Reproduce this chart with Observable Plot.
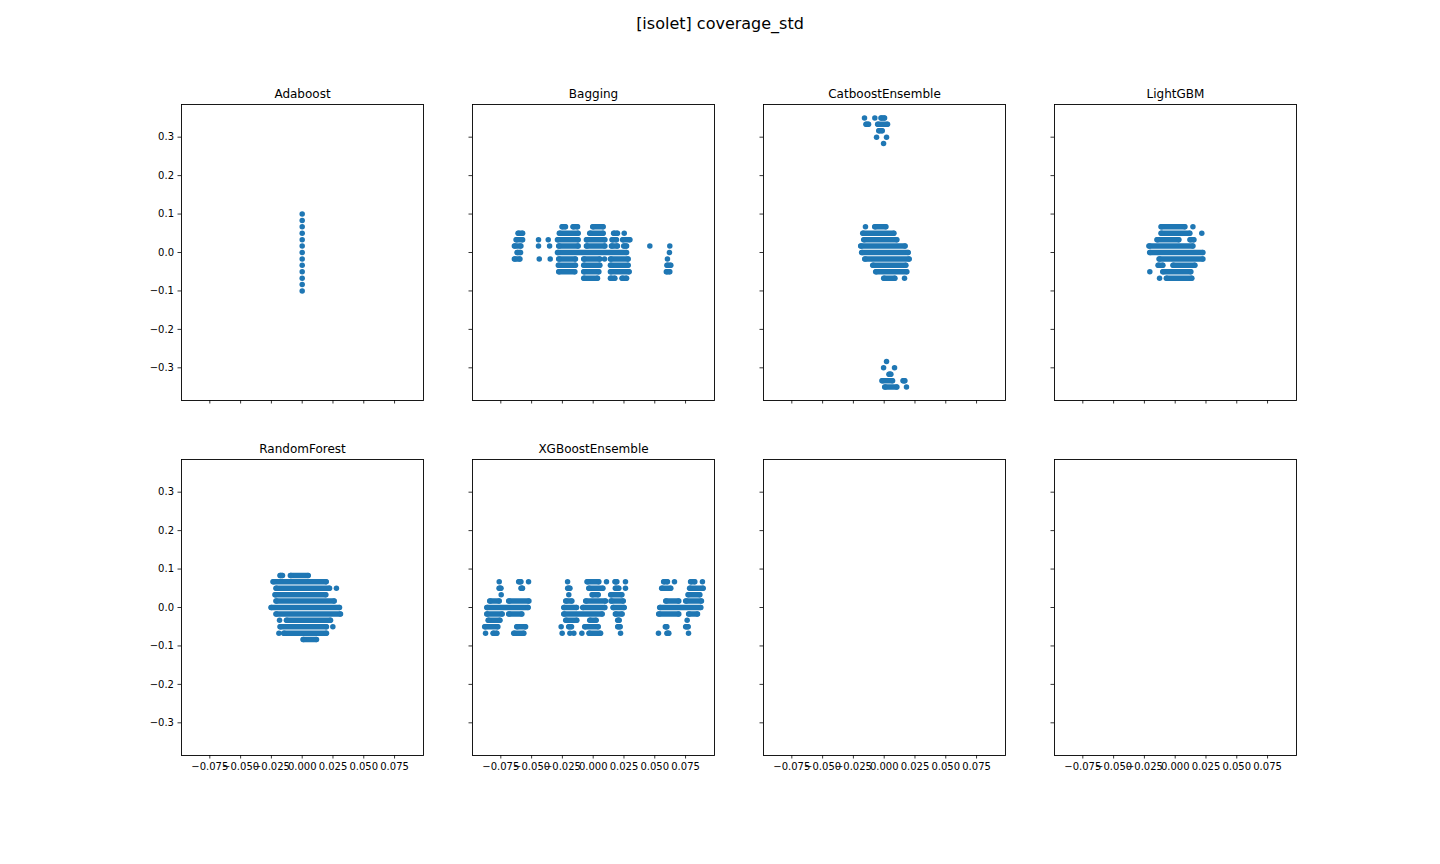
<!DOCTYPE html>
<html>
<head>
<meta charset="utf-8">
<script src="https://cdn.jsdelivr.net/npm/d3@7"></script>
<script src="https://cdn.jsdelivr.net/npm/@observablehq/plot@0.6"></script>
<style>
  html, body { margin: 0; padding: 0; background: #ffffff; }
  #root { position: relative; width: 1440px; height: 864px; background: #ffffff; overflow: hidden; }
  #suptitle { position: absolute; left: 0; top: 13.5px; width: 1440px; text-align: center;
    font-family: "DejaVu Sans", sans-serif; font-size: 16px; line-height: 20px; color: #000; }
  .panel { position: absolute; }
  .panel svg { overflow: visible; }
</style>
</head>
<body>
<div id="root">
  <div id="suptitle">[isolet] coverage_std</div>
</div>
<script>
// ---------- data: each row is [y, x_start, x_end] of a run of points (single point when start == end)
const adaboost = [
  [0.1, 0, 0], [0.0833, 0, 0], [0.0667, 0, 0], [0.05, 0, 0], [0.0333, 0, 0], [0.0167, 0, 0], [0, 0, 0],
  [-0.0167, 0, 0], [-0.0333, 0, 0], [-0.05, 0, 0], [-0.0667, 0, 0], [-0.0833, 0, 0], [-0.1, 0, 0]
];

const bagging = [
  [0.0667, -0.0249, -0.0225], [0.0667, -0.0160, -0.0127], [0.0667, 0.0, 0.0081],
  [0.05, -0.0606, -0.0573], [0.05, -0.0271, -0.0122], [0.05, -0.0024, 0.0081], [0.05, 0.0170, 0.0197], [0.05, 0.0252, 0.0252],
  [0.0333, -0.0622, -0.0573], [0.0333, -0.0444, -0.0444], [0.0333, -0.0365, -0.0365], [0.0333, -0.0286, -0.0122],
  [0.0333, -0.0051, 0.0095], [0.0333, 0.0157, 0.0189], [0.0333, 0.0243, 0.0298],
  [0.0167, -0.0636, -0.0587], [0.0167, -0.0444, -0.0444], [0.0167, -0.0354, -0.0354], [0.0167, -0.0276, -0.0122],
  [0.0167, -0.0051, 0.0095], [0.0167, 0.0152, 0.0197], [0.0167, 0.0252, 0.0271], [0.0167, 0.0460, 0.0460], [0.0167, 0.0622, 0.0622],
  [0, -0.0614, -0.0590], [0, -0.0286, 0.0271], [0, 0.0619, 0.0619],
  [-0.0167, -0.0636, -0.0595], [-0.0167, -0.0438, -0.0438], [-0.0167, -0.0349, -0.0349], [-0.0167, -0.0276, -0.0144],
  [-0.0167, -0.0073, 0.0054], [-0.0167, 0.0092, 0.0092], [-0.0167, 0.0144, 0.0284], [-0.0167, 0.0603, 0.0603],
  [-0.0333, -0.0279, -0.0144], [-0.0333, -0.0073, 0.0054], [-0.0333, 0.0144, 0.0284], [-0.0333, 0.0603, 0.0630],
  [-0.05, -0.0276, -0.0149], [-0.05, -0.0073, 0.0046], [-0.05, 0.0144, 0.0292], [-0.05, 0.0598, 0.0622],
  [-0.0667, -0.0073, 0.0035], [-0.0667, 0.0144, 0.0176], [-0.0667, 0.0238, 0.0271]
];

const catboost = [
  [0.35, -0.0160, -0.0160], [0.35, -0.0076, -0.0076], [0.35, -0.0022, 0.0003],
  [0.3333, -0.0144, -0.0127], [0.3333, -0.0049, 0.0027],
  [0.3167, -0.0040, -0.0016],
  [0.3, -0.0062, -0.0062], [0.3, 0.0019, 0.0019],
  [0.2833, -0.0005, -0.0005],
  [0.0667, -0.0152, -0.0152], [0.0667, -0.0073, 0.0014],
  [0.05, -0.0170, 0.0079],
  [0.0333, -0.0162, 0.0103],
  [0.0167, -0.0187, 0.0170],
  [0, -0.0179, 0.0195],
  [-0.0167, -0.0154, 0.0203],
  [-0.0333, -0.0089, 0.0176],
  [-0.05, -0.0065, 0.0184],
  [-0.0667, 0.0, 0.0087], [-0.0667, 0.0165, 0.0165],
  [-0.2833, 0.0019, 0.0019],
  [-0.3, -0.0005, -0.0005], [-0.3, 0.0084, 0.0084],
  [-0.3167, 0.0043, 0.0054],
  [-0.3333, -0.0014, 0.0068], [-0.3333, 0.0157, 0.0168],
  [-0.35, 0.0008, 0.0103], [-0.35, 0.0181, 0.0181]
];

const lightgbm = [
  [0.0667, -0.0111, 0.0079], [0.0667, 0.0144, 0.0144],
  [0.05, -0.0111, 0.0119], [0.05, 0.0216, 0.0216],
  [0.0333, -0.0144, 0.0030], [0.0333, 0.0124, 0.0152],
  [0.0167, -0.0209, 0.0144],
  [0, -0.0203, 0.0225],
  [-0.0167, -0.0127, 0.0225],
  [-0.0333, -0.0135, -0.0100], [-0.0333, -0.0014, 0.0160],
  [-0.05, -0.0206, -0.0206], [-0.05, -0.0097, 0.0127],
  [-0.0667, -0.0127, -0.0127], [-0.0667, -0.0068, 0.0135]
];

const randomforest = [
  [0.0833, -0.0176, -0.0160], [0.0833, -0.0092, 0.0049],
  [0.0667, -0.0233, 0.0195],
  [0.05, -0.0209, 0.0222], [0.05, 0.0278, 0.0278],
  [0.0333, -0.0217, 0.0192],
  [0.0167, -0.0209, 0.0260],
  [0, -0.0249, 0.0303],
  [-0.0167, -0.0209, 0.0311],
  [-0.0333, -0.0184, -0.0184], [-0.0333, -0.0124, 0.0230],
  [-0.05, -0.0176, 0.0197], [-0.05, 0.0249, 0.0249],
  [-0.0667, -0.0189, -0.0189], [-0.0667, -0.0146, 0.0197],
  [-0.0833, 0.0011, 0.0116]
];

const xgboost = [
  [0.0667, -0.0763, -0.0763], [0.0667, -0.0601, -0.0587], [0.0667, -0.0525, -0.0525], [0.0667, -0.0208, -0.0208],
  [0.0667, -0.0046, 0.0046], [0.0667, 0.0108, 0.0108], [0.0667, 0.0181, 0.0192], [0.0667, 0.0262, 0.0262],
  [0.0667, 0.0576, 0.0603], [0.0667, 0.0660, 0.0660], [0.0667, 0.0795, 0.0825], [0.0667, 0.0887, 0.0887],
  [0.05, -0.0760, -0.0749], [0.05, -0.0582, -0.0574], [0.05, -0.0203, -0.0189], [0.05, -0.0032, 0.0079],
  [0.05, 0.0184, 0.0208], [0.05, 0.0262, 0.0262], [0.05, 0.0560, 0.0630], [0.05, 0.0787, 0.0893],
  [0.0333, -0.0747, -0.0747], [0.0333, -0.0198, -0.0198], [0.0333, -0.0005, 0.0041], [0.0333, 0.0146, 0.0233],
  [0.0333, 0.0774, 0.0866],
  [0.0167, -0.0836, -0.0763], [0.0167, -0.0682, -0.0522], [0.0167, -0.0219, -0.0173], [0.0167, -0.0057, 0.0100],
  [0.0167, 0.0149, 0.0244], [0.0167, 0.0593, 0.0695], [0.0167, 0.0755, 0.0879],
  [0, -0.0860, -0.0528], [0, -0.0235, -0.0135], [0, -0.0081, 0.0095], [0, 0.0165, 0.0252], [0, 0.0544, 0.0874],
  [-0.0167, -0.0860, -0.0739], [-0.0167, -0.0682, -0.0579], [-0.0167, -0.0235, 0.0073], [-0.0167, 0.0184, 0.0235],
  [-0.0167, 0.0536, 0.0695], [-0.0167, 0.0779, 0.0847],
  [-0.0333, -0.0849, -0.0757], [-0.0333, -0.0219, -0.0133], [-0.0333, -0.0024, 0.0024], [-0.0333, 0.0203, 0.0211],
  [-0.0333, 0.0763, 0.0763],
  [-0.05, -0.0877, -0.0774], [-0.05, -0.0617, -0.0549], [-0.05, -0.0260, -0.0260], [-0.05, -0.0195, -0.0176],
  [-0.05, -0.0065, 0.0041], [-0.05, 0.0203, 0.0219], [-0.05, 0.0590, 0.0598], [-0.05, 0.0755, 0.0771],
  [-0.0667, -0.0874, -0.0874], [-0.0667, -0.0809, -0.0782], [-0.0667, -0.0641, -0.0563], [-0.0667, -0.0252, -0.0252],
  [-0.0667, -0.0189, -0.0189], [-0.0667, -0.0157, -0.0157], [-0.0667, -0.0092, -0.0092], [-0.0667, -0.0030, 0.0060],
  [-0.0667, 0.0222, 0.0222], [-0.0667, 0.0530, 0.0530], [-0.0667, 0.0603, 0.0614], [-0.0667, 0.0774, 0.0774]
];

const panelTitles = ["Adaboost", "Bagging", "CatboostEnsemble", "LightGBM", "RandomForest", "XGBoostEnsemble", "", ""];
const panelData = [adaboost, bagging, catboost, lightgbm, randomforest, xgboost, [], []];

const xTicks = [-0.075, -0.05, -0.025, 0, 0.025, 0.05, 0.075];
const yTicks = [-0.3, -0.2, -0.1, 0, 0.1, 0.2, 0.3];
const xDomain = [-0.098, 0.0985];
const yDomain = [-0.385, 0.385];

// ---------- layout
const pointColor = "#1f77b4";
const panelW = 242, panelH = 296;
const colLeft = [180.7, 471.7, 762.7, 1053.7];
const rowTop = [104, 459.3];
const ml = 55, mr = 15, mt = 30, mb = 30;
const dotR = 2.75;

const fmtX = d => (d < 0 ? "\u2212" : "") + Math.abs(d).toFixed(3);
const fmtY = d => (d < 0 ? "\u2212" : "") + Math.abs(d).toFixed(1);

const root = document.getElementById("root");

panelData.forEach((rows, i) => {
  const col = i % 4, row = Math.floor(i / 4);
  const segs = rows.filter(r => r[2] > r[1]);
  const ends = rows.flatMap(r => r[2] > r[1] ? [[r[0], r[1]], [r[0], r[2]]] : [[r[0], r[1]]]);
  const showX = row === 1;
  const showY = col === 0;
  const chart = Plot.plot({
    width: panelW + ml + mr,
    height: panelH + mt + mb,
    marginLeft: ml, marginRight: mr, marginTop: mt, marginBottom: mb,
    style: { fontFamily: "DejaVu Sans, sans-serif", fontSize: "10px", color: "#000", background: "transparent", overflow: "visible" },
    x: { domain: xDomain },
    y: { domain: yDomain },
    marks: [
      Plot.ruleY(segs, { y: d => d[0], x1: d => d[1], x2: d => d[2], stroke: pointColor, strokeWidth: dotR * 2, strokeLinecap: "round" }),
      Plot.dot(ends, { x: d => d[1], y: d => d[0], r: dotR, fill: pointColor, stroke: "none" }),
      Plot.frame({ stroke: "#000", strokeWidth: 0.9 }),
      Plot.axisX({ ticks: xTicks, tickSize: 3.5, tickPadding: 3.5, strokeWidth: 0.8, label: null,
                   tickFormat: showX ? fmtX : () => "" }),
      Plot.axisY({ ticks: yTicks, tickSize: 3.5, tickPadding: 4, strokeWidth: 0.8, label: null,
                   tickFormat: showY ? fmtY : () => "" }),
      Plot.text([panelTitles[i]], { frameAnchor: "top", text: d => d, dy: -7, lineAnchor: "bottom", fontSize: 12, fill: "#000" })
    ]
  });
  const wrap = document.createElement("div");
  wrap.className = "panel";
  wrap.style.left = (colLeft[col] - ml) + "px";
  wrap.style.top = (rowTop[row] - mt) + "px";
  wrap.appendChild(chart);
  root.appendChild(wrap);
});
</script>
</body>
</html>
